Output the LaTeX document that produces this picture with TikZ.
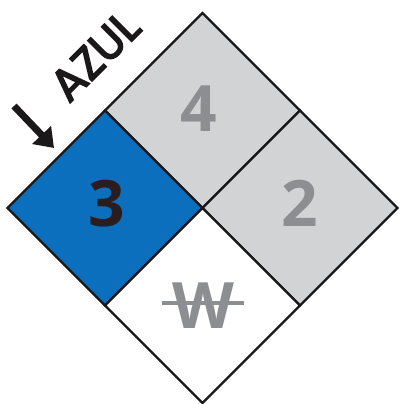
\documentclass[tikz,border=0pt]{standalone}
\usepackage{fontspec}
\usetikzlibrary{arrows.meta}
\newfontfamily\digitfont{Open Sans}
\newfontfamily\labelfont{Poppins}[FakeBold=3.5]
\definecolor{ink}{RGB}{26,24,25}
\definecolor{azure}{RGB}{11,111,190}
\definecolor{panel}{RGB}{209,211,212}
\definecolor{slate}{RGB}{140,142,145}
\definecolor{umber}{RGB}{43,28,30}

\begin{document}
\begin{tikzpicture}[x=1pt,y=-1pt,cell/.style={draw=ink,line width=2.4pt,line join=miter},num/.style={inner sep=0pt,font=\digitfont\bfseries\fontsize{64}{64}\selectfont},arrow/.style={-{Triangle[length=18pt,width=25pt]},line width=7pt,draw=ink}]
\useasboundingbox (0,0) rectangle (399,404);
\foreach \cx/\cy/\col in {202.5/110.5/panel,105/208/azure,300/208/panel,202.5/305.5/white}
  \filldraw[cell,fill=\col] (\cx-97.5,\cy) -- (\cx,\cy-97.5) -- (\cx+97.5,\cy) -- (\cx,\cy+97.5) -- cycle;
\node[num,text=umber] (health) at (107,204) {3};
\node[num,text=slate] (flame) at (199,109) {4};
\node[num,text=slate] (react) at (300,203) {2};
\node[num,text=slate] (special) at (203,306) {W};
\draw[slate,line width=4pt] ([xshift=-10pt,yshift=3pt]special.west) -- ([xshift=10pt,yshift=3pt]special.east);
\node[rotate=45,inner sep=0pt,text=ink,font=\labelfont\fontsize{45}{45}\selectfont] (azul) at (95,56) {AZUL};
\coordinate (tail) at (14,106); \coordinate (tip) at (54,148);
\draw[arrow] (tail) -- (tip);
\end{tikzpicture}
\end{document}
